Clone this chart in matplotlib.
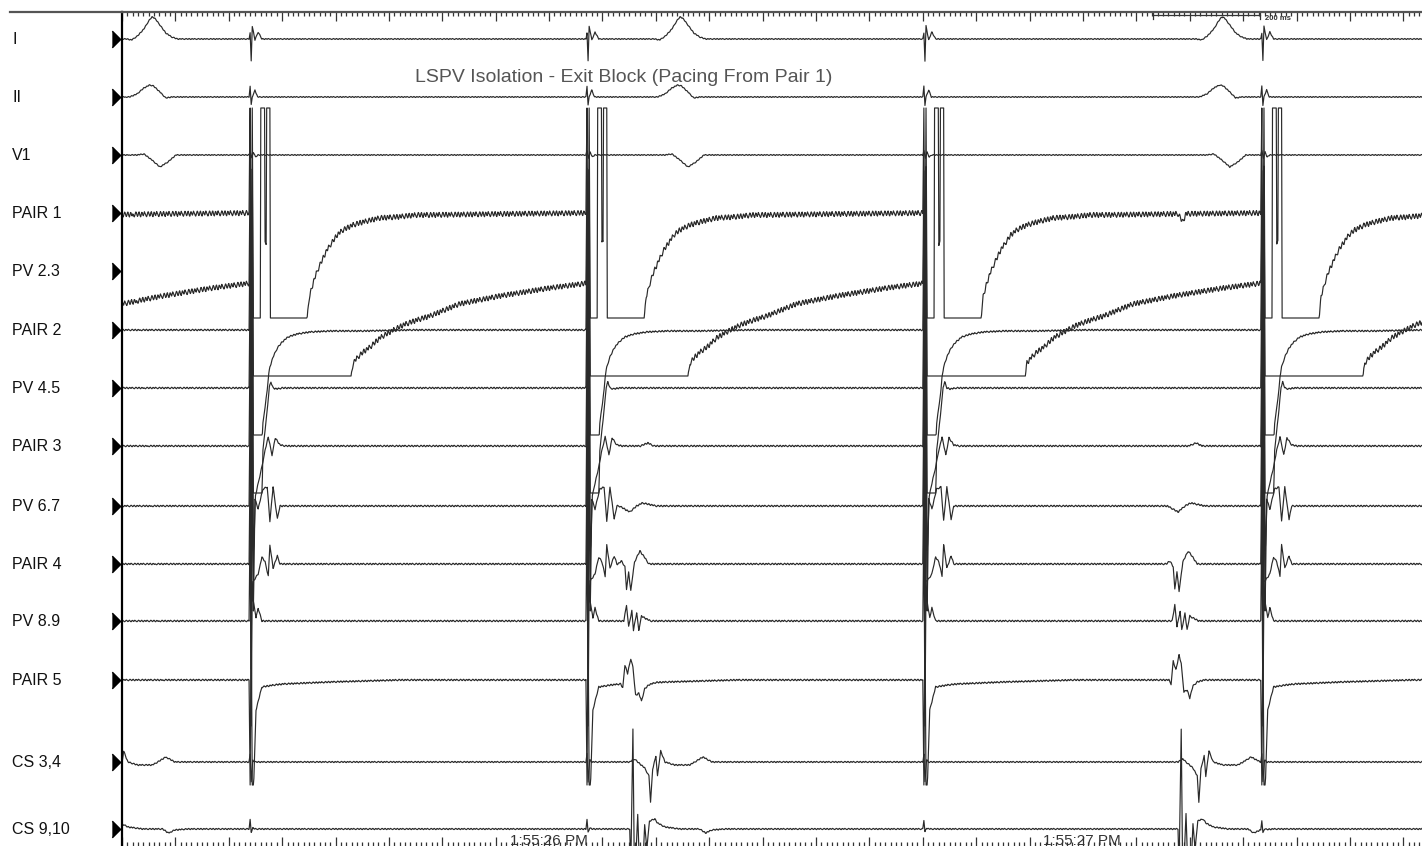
#Registro intracavitario - LSPV isolation (exit block)
import numpy as np
import matplotlib.pyplot as plt
import matplotlib.transforms as mtransforms
from matplotlib.lines import Line2D

plt.rcParams['font.family'] = ['Liberation Sans', 'DejaVu Sans']

#Canais
channels = ['I', 'II', 'V1', 'PAIR 1', 'PV 2.3', 'PAIR 2', 'PV 4.5', 'PAIR 3',
            'PV 6.7', 'PAIR 4', 'PV 8.9', 'PAIR 5', 'CS 3,4', 'CS 9,10']

#Instantes (ms) dos estimulos, das ativacoes atriais e das ondas do ECG
pace_ms = [-392, 240, 871, 1502, 2135]
atrial_ms = [-55, 951, 1978]
ecg_wave_ms = [56, 1045, 2060]

#Rotulos de tempo
stamp_labels = ['1:55:26 PM', '1:55:27 PM']
stamp_ms = [799, 1797]
scalebar_ms = 200

#Formas de onda apos o estimulo (ms relativo, deflexao)
ecg_i_pace_t = [-2, 0, 2, 4, 9, 15, 22]
ecg_i_pace_y = [0, -6, 22, -13, 1, -7, 0]
ecg_ii_pace_t = [-2, 0, 2, 4, 9, 14, 22]
ecg_ii_pace_y = [0, -11, 8, 0, -7, 0, 0]
v1_pace_t = [-2, 0, 3, 6, 10, 15]
v1_pace_y = [0, -4, 3, -3, 2, 0]
pair1_pace_t = [-2, 0, 2, 4, 6, 19, 20, 27, 28, 30, 31, 37, 38, 105, 111, 118, 125, 135,
                144, 154, 163, 174, 193, 212, 243, 275, 313, 337, 470, 636]
pair1_pace_y = [0, -115, 115, -115, 115, 115, -115, -115, 30, 30, -115, -115, 115, 115, 84, 70,
                59, 47, 37, 29, 22, 17, 12, 9, 5, 4, 2, 2, 1, 0]
pv23_pace_t = [-2, 0, 2, 4, 6, 8, 187, 193, 202, 212, 225, 243, 262, 287, 313, 337, 392, 468, 562, 636]
pv23_pace_y = [0, -115, 115, -115, 115, 115, 115, 92, 86, 81, 76, 67, 61, 54, 49, 45, 33, 25, 17, 12]
pair2_pace_t = [-2, 0, 2, 4, 6, 8, 22, 24, 28, 32, 34, 37, 43, 51, 60, 71, 88, 112, 150, 212, 300]
pair2_pace_y = [0, -115, 115, -115, 115, 115, 115, 93, 77, 60, 47, 37, 27, 18, 12, 7, 4, 2, 1, 1, 0]
pv45_pace_t = [-2, 0, 2, 4, 6, 8, 22, 24, 32, 36, 39, 43, 50, 60]
pv45_pace_y = [0, -115, 115, -115, 115, 115, 115, 62, 22, -1, -6, 0, 1, 0]
pair3_pace_t = [-2, 0, 2, 4, 6, 10, 16, 22, 28, 34, 41, 47, 56, 66]
pair3_pace_y = [0, -115, 115, -115, 115, 50, 35, 21, 4, -9, 9, -8, -1, 0]
pv67_pace_t = [-2, 0, 2, 4, 6, 9, 15, 24, 32, 37, 43, 51, 56, 66]
pv67_pace_y = [0, -115, 115, -115, 115, -7, 3, -17, -19, 15, -19, 13, 0, 0]
pair4_pace_t = [-2, 0, 2, 4, 6, 15, 22, 28, 34, 37, 43, 51, 56, 66]
pair4_pace_y = [0, -115, 115, -115, 17, 10, -7, -2, 12, -19, 4, -8, 0, 0]
pv89_pace_t = [-2, 0, 2, 4, 6, 11, 15, 22, 30]
pv89_pace_y = [0, -115, 115, -40, -20, -3, -13, 0, 0]
pair5_pace_t = [-2, 0, 2, 4, 6, 11, 22, 45, 62, 150, 280]
pair5_pace_y = [0, 115, -60, 115, 115, 30, 7, 5, 4, 2, 0]
cs34_pace_t = [-2, 0, 2, 5, 9]
cs34_pace_y = [0, -8, 20, -2, 0]
cs910_pace_t = [-2, 0, 2, 5, 9]
cs910_pace_y = [0, -9, 3, -1, 0]

#Ondas do ECG de superficie (relativas ao pico em I)
ecg_i_wave_t = [-47, -38, -27, -15, -6, 0, 5, 15, 26, 37, 48]
ecg_i_wave_y = [0, 1, -3, -10, -18, -22, -21, -14, -6, -2, 0]
ecg_ii_wave_t = [-42, -28, -15, -4, 3, 15, 26, 37]
ecg_ii_wave_y = [0, -3, -9, -12, -11, -5, 1, 0]
v1_wave_t = [-28, -15, 0, 15, 30, 45, 56]
v1_wave_y = [0, -1, 5, 12, 7, 0, 0]

#Formas de onda da ativacao atrial nos cateteres
pair1_atr_t = [0, 9, 15]
pair1_atr_y = [0, 8, 0]
pair3_atr_t = [20, 34, 45]
pair3_atr_y = [0, -3, 0]
pv67_atr_t = [-20, -13, 0, 13, 24, 50]
pv67_atr_y = [0, 2, 6, 0, -3, 0]
pair4_atr_t = [-22, -15, -9, -6, -2, 2, 9, 19, 26, 36]
pair4_atr_y = [0, -3, 3, 25, 8, 27, -2, -13, -8, 0]
pv89_atr_t = [-11, -6, -2, 4, 7, 13, 17, 22, 28, 39]
pv89_atr_y = [0, -16, 6, -10, 9, -8, 9, -5, -3, 0]
pair5_atr_t = [-17, -13, -9, -4, 2, 6, 11, 17, 22, 28, 36, 49]
pair5_atr_y = [0, 4, -19, -10, -25, -16, 12, 10, 18, 6, 2, 0]
cs34_atr_t = [-4, 0, 9, 15, 28, 36, 39, 43, 49, 52, 58, 66, 84, 112, 122, 137, 154]
cs34_atr_y = [0, 0, -3, 0, 6, 14, 40, 7, -6, 14, -11, 0, 3, 3, 0, -5, 0]
cs910_atr_t = [-4, 0, 2, 6, 9, 15, 19, 22, 28, 32, 37, 47, 52, 66, 94, 131, 142, 154, 178]
cs910_atr_y = [0, 0, 40, -100, 60, -15, 50, 70, -5, 20, -8, -10, -6, -2, 0, 0, 4, 1, 0]

wiggle = [0, 1.5, 2.5, 1, -1, -2.5, -1.5, 0.5, 2, 1, -1.5, -2.5, -0.5, 1.5, 2.5, 0,
          -2, -1.5, 0.5, 1.5, -0.5, -2.5, -1]

pace_tpl = [(ecg_i_pace_t, ecg_i_pace_y), (ecg_ii_pace_t, ecg_ii_pace_y), (v1_pace_t, v1_pace_y),
            (pair1_pace_t, pair1_pace_y), (pv23_pace_t, pv23_pace_y), (pair2_pace_t, pair2_pace_y),
            (pv45_pace_t, pv45_pace_y), (pair3_pace_t, pair3_pace_y), (pv67_pace_t, pv67_pace_y),
            (pair4_pace_t, pair4_pace_y), (pv89_pace_t, pv89_pace_y), (pair5_pace_t, pair5_pace_y),
            (cs34_pace_t, cs34_pace_y), (cs910_pace_t, cs910_pace_y)]
ecg_tpl = [(ecg_i_wave_t, ecg_i_wave_y), (ecg_ii_wave_t, ecg_ii_wave_y), (v1_wave_t, v1_wave_y)]
atr_tpl = [None, None, None, (pair1_atr_t, pair1_atr_y), None, None, None, (pair3_atr_t, pair3_atr_y),
           (pv67_atr_t, pv67_atr_y), (pair4_atr_t, pair4_atr_y), (pv89_atr_t, pv89_atr_y),
           (pair5_atr_t, pair5_atr_y), (cs34_atr_t, cs34_atr_y), (cs910_atr_t, cs910_atr_y)]
noise_gain = [0.2, 0.2, 0.2, 1.0, 1.0, 0.3, 0.3, 0.3, 0.3, 0.3, 0.3, 0.3, 0.25, 0.25]
clip_lim = [200, 200, 200, 105, 105, 105, 105, 105, 105, 105, 105, 105, 103, 103]

#Layout (linhas de base em pixels da figura)
baselines = [39, 97, 155, 213, 271, 330, 388, 446, 506, 564, 621, 680, 762, 829]
t_end = 2435

fig = plt.figure(figsize=(14.22, 8.46), dpi=100)
ax = fig.add_axes([122 / 1422, 0, 1300 / 1422, 834 / 846])
ax.set_xlim(0, t_end)
ax.set_ylim(846, 12)

t = np.arange(0, t_end + 1, 1.0)
ruido = np.tile(wiggle, len(t) // len(wiggle) + 1)[:len(t)]

for i in range(len(channels)):
    y = np.zeros(len(t))
    pt, py = pace_tpl[i]
    for p in pace_ms:
        y += np.interp(t - p, pt, py, left=0, right=0)
    if i < 3:
        et, ey = ecg_tpl[i]
        for w in ecg_wave_ms:
            y += np.interp(t - w, et, ey, left=0, right=0)
    if atr_tpl[i] is not None:
        at, ay = atr_tpl[i]
        for a in atrial_ms:
            y += np.interp(t - a, at, ay, left=0, right=0)
    y += np.roll(ruido, 7 * i) * noise_gain[i]
    y = np.clip(y, -clip_lim[i], clip_lim[i])
    ax.plot(t, baselines[i] + y, color='#2a2a2a', lw=0.85)

#Regua de tempo
ax.set_xticks(np.arange(0, t_end + 1, 100))
ax.set_xticks(np.arange(0, t_end + 1, 10), minor=True)
ax.set_yticks([])
ax.tick_params(which='both', top=True, bottom=True, direction='in', labelbottom=False,
               color='#333333', width=0.9)
ax.tick_params(which='major', length=6.5)
ax.tick_params(which='minor', length=3)
for s in ['right', 'bottom']:
    ax.spines[s].set_visible(False)
ax.spines['left'].set_linewidth(1.6)
ax.spines['left'].set_color('black')
ax.spines['top'].set_linewidth(1.6)
ax.spines['top'].set_color('#555555')
fig.add_artist(Line2D([10 / 1422, 122 / 1422], [834 / 846, 834 / 846], lw=1.6, color='#555555'))

#Rotulos dos canais e marcadores
trans = mtransforms.blended_transform_factory(ax.transAxes, ax.transData)
tri = [(-0.5, -1), (0.5, 0), (-0.5, 1)]
ax.plot([-6 / 1300] * len(baselines), baselines, ls='none', marker=tri, ms=12,
        color='black', transform=trans, clip_on=False)
for name, b in zip(channels, baselines):
    ax.text(-110 / 1300, b, name, transform=trans, ha='left', va='center',
            fontsize=11.5, color='#111111')

#Titulo
ax.text(940, 77, 'LSPV Isolation - Exit Block (Pacing From Pair 1)', ha='center', va='center',
        fontsize=14, color='#555555')

#Barra de escala
sb0 = 1931
ax.plot([sb0, sb0 + scalebar_ms], [15, 15], color='#333333', lw=0.9)
ax.plot([sb0, sb0], [12.5, 18.5], color='#333333', lw=0.9)
ax.plot([sb0 + scalebar_ms, sb0 + scalebar_ms], [12.5, 18.5], color='#333333', lw=0.9)
ax.text(sb0 + scalebar_ms + 10, 18, '%d ms' % scalebar_ms, fontsize=5.5, fontweight='bold',
        va='center', ha='left', color='#333333')

#Horarios
for lab, ms in zip(stamp_labels, stamp_ms):
    ax.text(ms, 845, lab, ha='center', va='baseline', fontsize=11, color='#333333')

plt.savefig('out.png', dpi=100)
